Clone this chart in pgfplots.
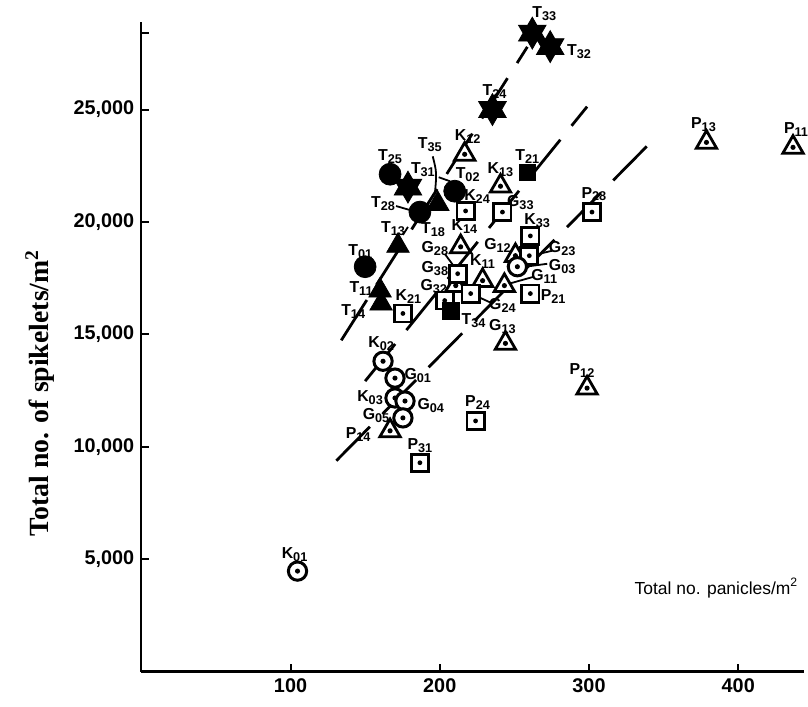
\documentclass[border=0pt]{standalone}
\usepackage{pgfplots}
\pgfplotsset{compat=1.18}
\usepackage{fontspec}
\setmainfont{Liberation Sans}
\newfontfamily\timesfont{Liberation Serif}

% six-pointed filled star
\pgfdeclareplotmark{hexstar}{%
  \pgfpathmoveto{\pgfqpointpolar{90}{\pgfplotmarksize}}%
  \pgfpathlineto{\pgfqpointpolar{210}{\pgfplotmarksize}}%
  \pgfpathlineto{\pgfqpointpolar{330}{\pgfplotmarksize}}%
  \pgfpathclose
  \pgfpathmoveto{\pgfqpointpolar{270}{\pgfplotmarksize}}%
  \pgfpathlineto{\pgfqpointpolar{30}{\pgfplotmarksize}}%
  \pgfpathlineto{\pgfqpointpolar{150}{\pgfplotmarksize}}%
  \pgfpathclose
  \pgfusepathqfillstroke}
% open symbols with a dot in the middle
\pgfdeclareplotmark{cdot}{%
  \pgfsetfillcolor{white}%
  \pgfpathcircle{\pgfpointorigin}{\pgfplotmarksize}\pgfusepathqfillstroke
  \pgfsetfillcolor{black}%
  \pgfpathcircle{\pgfpointorigin}{0.28\pgfplotmarksize}\pgfusepathqfill}
\pgfdeclareplotmark{tdot}{%
  \pgfsetfillcolor{white}%
  \pgfpathmoveto{\pgfqpointpolar{90}{\pgfplotmarksize}}%
  \pgfpathlineto{\pgfqpointpolar{210}{\pgfplotmarksize}}%
  \pgfpathlineto{\pgfqpointpolar{330}{\pgfplotmarksize}}%
  \pgfpathclose\pgfusepathqfillstroke
  \pgfsetfillcolor{black}%
  \pgfpathcircle{\pgfpointorigin}{0.22\pgfplotmarksize}\pgfusepathqfill}
\pgfdeclareplotmark{sdot}{%
  \pgfsetfillcolor{white}%
  \pgfpathrectanglecorners{\pgfpoint{-\pgfplotmarksize}{-\pgfplotmarksize}}{\pgfpoint{\pgfplotmarksize}{\pgfplotmarksize}}%
  \pgfusepathqfillstroke
  \pgfsetfillcolor{black}%
  \pgfpathcircle{\pgfpointorigin}{0.28\pgfplotmarksize}\pgfusepathqfill}

\newcommand{\lb}[2]{#1\raisebox{-0.35ex}{\fontsize{6.4}{7}\selectfont #2}}

\begin{document}
\begin{tikzpicture}[lab/.style={font=\fontsize{8}{9}\selectfont\bfseries, inner sep=0pt}]
\begin{axis}[
  scale only axis, width=333bp, height=326.5bp,
  xmin=0, xmax=444, ymin=0, ymax=28900,
  axis x line*=bottom, axis y line*=left,
  axis line style={line width=1.2bp},
  tick align=inside, major tick length=4bp,
  tick style={line width=1bp, black},
  xtick={100,200,300,400},
  ytick={5000,10000,15000,20000,25000},
  extra y ticks={28400}, extra y tick labels={},
  ticklabel style={font=\fontsize{10}{12}\selectfont\bfseries},
  /pgf/number format/1000 sep={,},
  /pgf/number format/assume math mode=true,
  scaled y ticks=false,
  clip=false,
  ylabel={Total no. of spikelets/m\textsuperscript{2}},
  ylabel style={font=\timesfont\bfseries\fontsize{14}{16}\selectfont, at={(rel axis cs:-0.153,0.429)}, anchor=center},
  xlabel={Total no. panicles/m\textsuperscript{2}},
  xlabel style={font=\fontsize{8.8}{10}\selectfont, at={(rel axis cs:0.868,0.129)}, anchor=center},
]
% canvas the size of the reference
\path (rel axis cs:-0.2132,-0.0536) rectangle (rel axis cs:1,1.0337);

% regression lines
\addplot[black, line width=1.4bp, dash pattern=on 24bp off 9bp] coordinates {(134,14735) (258.7,27790)};
\addplot[black, line width=1.4bp, dash pattern=on 24bp off 9bp] coordinates {(150,12920) (298.7,25130)};
\addplot[black, line width=1.4bp, dash pattern=on 24bp off 9bp] coordinates {(130.7,9380) (340,23450)};

% open triangles
\addplot[only marks, mark=tdot, mark size=5.9bp, black, mark options={line width=1.4bp}] table {
x y
216.7 23010
240.7 21590
214.0 18895
228.7 17390
250.7 18500
243.3 17170
244.0 14600
166.7 10710
298.7 12610
378.7 23540
436.7 23320
210.7 17170
};
% open squares
\addplot[only marks, mark=sdot, mark size=4.3bp, black, mark options={line width=1.4bp}] table {
x y
217.3 20490
242.0 20440
302.0 20440
260.7 19380
260.0 18500
260.7 16815
212.0 17700
220.7 16815
203.3 16505
175.3 15930
224.0 11150
186.7 9290
};
% open circles
\addplot[only marks, mark=cdot, mark size=4.6bp, black, mark options={line width=1.5bp}] table {
x y
252.0 18010
162.0 13805
170.0 13055
170.0 12170
176.7 12035
175.3 11285
104.7 4470
};
% filled circles
\addplot[only marks, mark=*, mark size=5.5bp, black] table {
x y
166.7 22125
186.7 20440
210.0 21370
150.0 18010
};
% filled triangles
\addplot[only marks, mark=triangle*, mark size=6.5bp, black] table {
x y
198.7 20800
172.0 18940
160.0 16950
160.7 16370
};
% filled squares
\addplot[only marks, mark=square*, mark size=4.2bp, black] table {
x y
258.7 22210
207.3 16060
};
% filled stars
\addplot[only marks, mark=hexstar, mark size=8bp, black] table {
x y
262.0 28400
274.0 27800
235.3 25000
178.7 21550
};

% point labels
\node[lab] at (axis cs:270,29250) {\lb{T}{33}};
\node[lab] at (axis cs:293.3,27570) {\lb{T}{32}};
\node[lab] at (axis cs:236.7,25800) {\lb{T}{24}};
\node[lab] at (axis cs:188.7,22345) {\lb{T}{31}};
\node[lab] at (axis cs:193.3,23450) {\lb{T}{35}};
\node[lab] at (axis cs:166.7,22920) {\lb{T}{25}};
\node[lab] at (axis cs:162,20800) {\lb{T}{28}};
\node[lab] at (axis cs:218.7,22125) {\lb{T}{02}};
\node[lab] at (axis cs:146.7,18675) {\lb{T}{01}};
\node[lab] at (axis cs:195.5,19650) {\lb{T}{18}};
\node[lab] at (axis cs:168.7,19690) {\lb{T}{13}};
\node[lab] at (axis cs:147.3,17035) {\lb{T}{11}};
\node[lab] at (axis cs:142,16020) {\lb{T}{14}};
\node[lab] at (axis cs:258.7,22920) {\lb{T}{21}};
\node[lab] at (axis cs:222.7,15620) {\lb{T}{34}};
\node[lab] at (axis cs:218.7,23800) {\lb{K}{12}};
\node[lab] at (axis cs:240.7,22345) {\lb{K}{13}};
\node[lab] at (axis cs:216.5,19800) {\lb{K}{14}};
\node[lab] at (axis cs:228.7,18230) {\lb{K}{11}};
\node[lab] at (axis cs:238.7,18940) {\lb{G}{12}};
\node[lab] at (axis cs:270,17570) {\lb{G}{11}};
\node[lab] at (axis cs:242,15355) {\lb{G}{13}};
\node[lab] at (axis cs:145.3,10530) {\lb{P}{14}};
\node[lab] at (axis cs:295.3,13410) {\lb{P}{12}};
\node[lab] at (axis cs:376.7,24340) {\lb{P}{13}};
\node[lab] at (axis cs:438.7,24115) {\lb{P}{11}};
\node[lab] at (axis cs:225,21150) {\lb{K}{24}};
\node[lab] at (axis cs:254,20885) {\lb{G}{33}};
\node[lab] at (axis cs:303.3,21240) {\lb{P}{28}};
\node[lab] at (axis cs:265.3,20045) {\lb{K}{33}};
\node[lab] at (axis cs:282,18805) {\lb{G}{23}};
\node[lab] at (axis cs:276,16680) {\lb{P}{21}};
\node[lab] at (axis cs:196.7,18805) {\lb{G}{28}};
\node[lab] at (axis cs:196.7,17920) {\lb{G}{38}};
\node[lab] at (axis cs:242,16285) {\lb{G}{24}};
\node[lab] at (axis cs:196,17120) {\lb{G}{32}};
\node[lab] at (axis cs:179,16700) {\lb{K}{21}};
\node[lab] at (axis cs:225.3,11950) {\lb{P}{24}};
\node[lab] at (axis cs:186.7,10045) {\lb{P}{31}};
\node[lab] at (axis cs:282,18010) {\lb{G}{03}};
\node[lab] at (axis cs:160.7,14600) {\lb{K}{02}};
\node[lab] at (axis cs:185.3,13185) {\lb{G}{01}};
\node[lab] at (axis cs:153.3,12170) {\lb{K}{03}};
\node[lab] at (axis cs:194,11815) {\lb{G}{04}};
\node[lab] at (axis cs:157.3,11370) {\lb{G}{05}};
\node[lab] at (axis cs:102.7,5220) {\lb{K}{01}};

% leader lines
\draw[line width=0.9bp] (axis cs:195.3,22920) .. controls (axis cs:198,22200) .. (axis cs:196.7,21240);
\draw[line width=0.9bp] (axis cs:170.7,20710) -- (axis cs:180,20530);
\draw[line width=0.9bp] (axis cs:199.3,21990) -- (axis cs:206.7,21815);
\draw[line width=0.9bp] (axis cs:175.3,19425) -- (axis cs:178.7,19780);
\draw[line width=0.9bp] (axis cs:266.7,18585) -- (axis cs:275.3,18720);
\draw[line width=0.9bp] (axis cs:257.3,18010) -- (axis cs:272,18140);
\draw[line width=0.9bp] (axis cs:246.7,17260) -- (axis cs:263.3,17570);
\draw[line width=0.9bp] (axis cs:225.3,16680) -- (axis cs:234,16415);
\draw[line width=0.9bp] (axis cs:203.3,18585) -- (axis cs:210.7,17920);
\end{axis}
\end{tikzpicture}
\end{document}
